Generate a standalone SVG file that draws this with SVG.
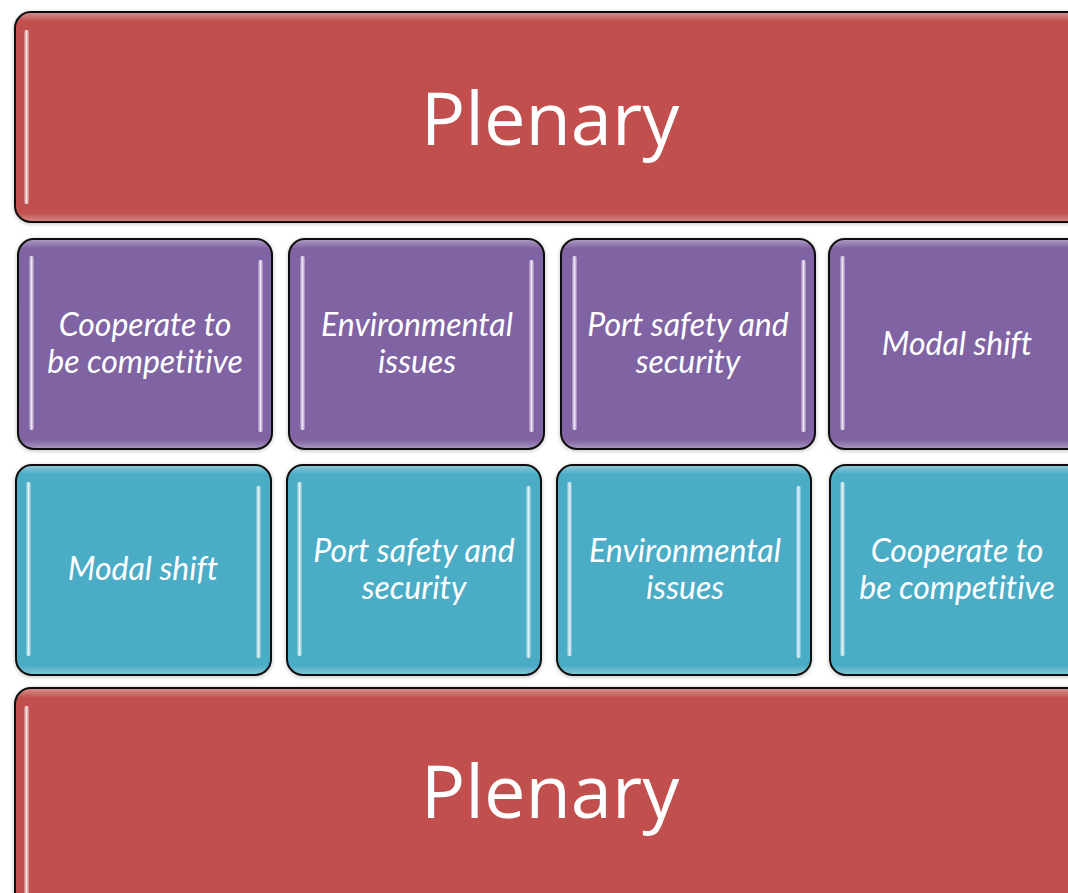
<svg xmlns="http://www.w3.org/2000/svg" width="1068" height="893" viewBox="0 0 1068 893">
<defs>
<linearGradient id="strip" x1="0" y1="0" x2="1" y2="0">
<stop offset="0" stop-color="#fff" stop-opacity="0.2"/>
<stop offset="0.5" stop-color="#fff" stop-opacity="0.85"/>
<stop offset="1" stop-color="#fff" stop-opacity="0.2"/>
</linearGradient>
<linearGradient id="edge" x1="0" y1="0" x2="0" y2="1">
<stop offset="0" stop-color="#fff" stop-opacity="0.35"/>
<stop offset="0.04" stop-color="#fff" stop-opacity="0"/>
<stop offset="0.96" stop-color="#fff" stop-opacity="0"/>
<stop offset="1" stop-color="#fff" stop-opacity="0.3"/>
</linearGradient>
<filter id="sh" x="-10%" y="-10%" width="120%" height="120%">
<feGaussianBlur in="SourceAlpha" stdDeviation="2"/>
<feOffset dx="0" dy="1" result="b"/>
<feComponentTransfer><feFuncA type="linear" slope="0.25"/></feComponentTransfer>
<feMerge><feMergeNode/><feMergeNode in="SourceGraphic"/></feMerge>
</filter>
<filter id="soft"><feGaussianBlur stdDeviation="0.6"/></filter>
</defs>
<style>
.box{stroke:#111;stroke-width:2;filter:url(#sh)}
.red{fill:#C0504D}
.pur{fill:#8064A2}
.teal{fill:#4BACC6}
.gl{fill:url(#edge);stroke:none}
.st{fill:url(#strip);filter:url(#soft)}
.big{font-family:"Open Sans","Liberation Sans",sans-serif;font-size:74px;fill:#fff;text-anchor:middle}
.lbl{font-family:Lato,"Open Sans","Liberation Sans",sans-serif;font-style:italic;font-size:32px;fill:#fff;text-anchor:middle;font-variant-ligatures:none}
</style>
<rect width="1068" height="893" fill="#fff"/>

<g id="plenary-top">
<rect class="box red" x="15" y="12" width="1080" height="210" rx="16"/>
<rect class="gl" x="16" y="13" width="1078" height="208" rx="15"/>
<rect class="st" x="24" y="30" width="5" height="174" rx="2"/>
<text class="big" x="550" y="145">Plenary</text>
</g>

<g id="p1">
<rect class="box pur" x="18" y="239" width="254" height="210" rx="16"/>
<rect class="gl" x="19" y="240" width="252" height="208" rx="15"/>
<rect class="st" x="29" y="256" width="5" height="174" rx="2"/>
<rect class="st" x="258" y="260" width="5" height="172" rx="2"/>
<text class="lbl" x="145" y="336">Cooperate to</text>
<text class="lbl" x="145" y="373">be competitive</text>
</g>
<g id="p2">
<rect class="box pur" x="289" y="239" width="255" height="210" rx="16"/>
<rect class="gl" x="290" y="240" width="253" height="208" rx="15"/>
<rect class="st" x="300" y="256" width="5" height="174" rx="2"/>
<rect class="st" x="529" y="260" width="5" height="172" rx="2"/>
<text class="lbl" x="417" y="336">Environmental</text>
<text class="lbl" x="417" y="373">issues</text>
</g>
<g id="p3">
<rect class="box pur" x="561" y="239" width="254" height="210" rx="16"/>
<rect class="gl" x="562" y="240" width="252" height="208" rx="15"/>
<rect class="st" x="572" y="256" width="5" height="174" rx="2"/>
<rect class="st" x="801" y="260" width="5" height="172" rx="2"/>
<text class="lbl" x="688" y="336">Port safety and</text>
<text class="lbl" x="688" y="373">security</text>
</g>
<g id="p4">
<rect class="box pur" x="829" y="239" width="260" height="210" rx="16"/>
<rect class="gl" x="830" y="240" width="258" height="208" rx="15"/>
<rect class="st" x="840" y="256" width="5" height="174" rx="2"/>
<text class="lbl" x="957" y="355">Modal shift</text>
</g>

<g id="t1">
<rect class="box teal" x="16" y="465" width="255" height="210" rx="16"/>
<rect class="gl" x="17" y="466" width="253" height="208" rx="15"/>
<rect class="st" x="26" y="482" width="5" height="174" rx="2"/>
<rect class="st" x="256" y="486" width="5" height="172" rx="2"/>
<text class="lbl" x="143" y="580">Modal shift</text>
</g>
<g id="t2">
<rect class="box teal" x="287" y="465" width="254" height="210" rx="16"/>
<rect class="gl" x="288" y="466" width="252" height="208" rx="15"/>
<rect class="st" x="297" y="482" width="5" height="174" rx="2"/>
<rect class="st" x="526" y="486" width="5" height="172" rx="2"/>
<text class="lbl" x="414" y="562">Port safety and</text>
<text class="lbl" x="414" y="599">security</text>
</g>
<g id="t3">
<rect class="box teal" x="557" y="465" width="254" height="210" rx="16"/>
<rect class="gl" x="558" y="466" width="252" height="208" rx="15"/>
<rect class="st" x="567" y="482" width="5" height="174" rx="2"/>
<rect class="st" x="796" y="486" width="5" height="172" rx="2"/>
<text class="lbl" x="685" y="562">Environmental</text>
<text class="lbl" x="685" y="599">issues</text>
</g>
<g id="t4">
<rect class="box teal" x="830" y="465" width="260" height="210" rx="16"/>
<rect class="gl" x="831" y="466" width="258" height="208" rx="15"/>
<rect class="st" x="840" y="482" width="5" height="174" rx="2"/>
<text class="lbl" x="957" y="562">Cooperate to</text>
<text class="lbl" x="957" y="599">be competitive</text>
</g>

<g id="plenary-bottom">
<rect class="box red" x="15" y="688" width="1080" height="230" rx="16"/>
<rect class="gl" x="16" y="689" width="1078" height="228" rx="15"/>
<rect class="st" x="24" y="706" width="5" height="200" rx="2"/>
<text class="big" x="550" y="818">Plenary</text>
</g>
<g id="connectors"></g>
</svg>
